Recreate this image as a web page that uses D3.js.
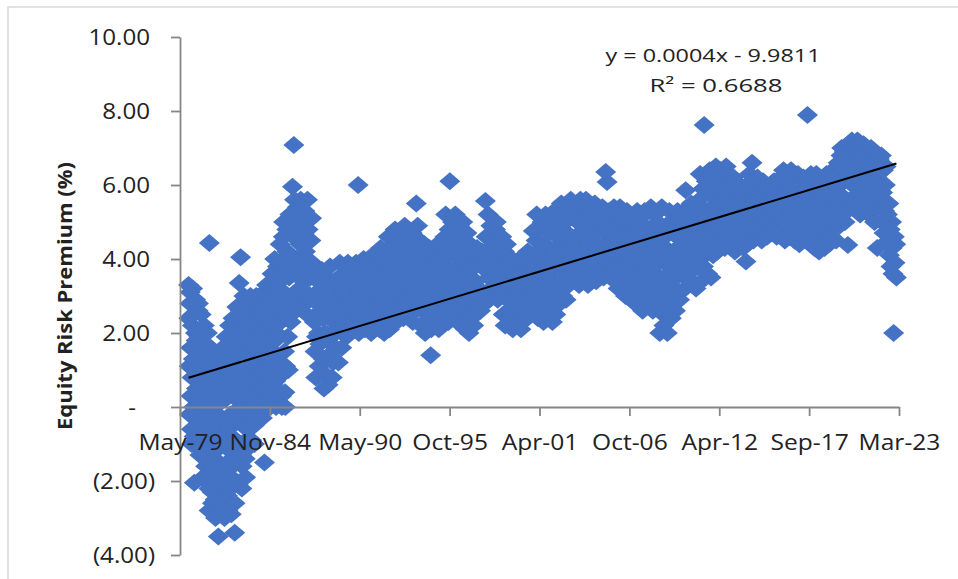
<!DOCTYPE html>
<html>
<head>
<meta charset="utf-8">
<script src="https://cdn.jsdelivr.net/npm/d3@7"></script>
<style>
  body { margin: 0; background: #fff; }
  text { font-family: "Open Sans", sans-serif; fill: #222; }
</style>
</head>
<body>
<svg id="chart" width="958" height="579"></svg>
<script>
// Equity risk premium (%).
// Weekly readings (1st, 8th, 16th, 24th of each month), Dec 1979 .. Dec 1985
const erpWeekly1979to82 = [
  3.3, 2.4, 1.1, -0.2,
  2.8, 3.1, 1.6, 0.3,  -0.6, -1.0, 0.8, 2.2,  3.2, 2.5, 1.3, 0.0,
  -0.8, -2.05, -0.3, 1.0,  2.0, 2.9, 1.8, 0.5,  -0.5, -1.0, 0.2, 1.5,
  2.6, 2.8, 1.9, 0.7,  -0.4, -1.3, -0.9, 0.4,  1.4, 2.5, 2.0, 1.0,
  -0.1, -1.2, -1.9, -1.0,  0.2, 1.2, 2.2, 1.6,  0.6, -0.6, -1.6, -2.0,
  -1.2, 0.0, 1.0, 2.0,  1.4, 0.3, -0.9, -2.2,  -2.8, 4.43, -1.5, -0.4,
  0.7, 1.6, 1.1, -0.1,  -1.1, -2.3, -2.6, -1.7,  -0.6, 0.5, 1.5, 0.9,
  -0.3, -1.4, -2.5, -3.0,  -2.0, -0.8, 0.4, 1.3,  0.7, -0.5, -1.8, -3.5,
  -2.9, -2.2, -1.1, 0.1,  1.1, 0.3, -0.9, -2.1,  -2.7, -1.6, -0.3, 0.8,
  1.6, 0.5, -0.7, -1.8,  -2.6, -3.0, -2.1, -1.0,  0.2, 1.3, 1.9, 0.9,
  -0.4, -1.5, -2.4, -2.8,  -1.7, -0.6, 0.6, 1.7,  2.2, 1.2, -0.2, -1.2,
  -2.2, -2.9, -1.9, -0.8,  0.4, 1.5, 2.4, 1.8,  0.5, -0.9, -2.0, -3.4,
  -2.6, -1.4, -0.1, 1.1,  2.1, 2.7, 1.4, 0.2,  -1.0, -2.1, -1.5, -0.4
];
const erpWeekly1983to85 = [
  3.35, 0.8, 1.9, 2.6,  4.05, 1.5, 0.1, -1.3,  -2.2, -1.6, -0.5, 0.7,
  1.8, 2.8, 3.0, 2.2,  1.0, -0.2, -1.4, -1.9,  -0.9, 0.3, 1.4, 2.4,
  2.9, 2.1, 0.9, -0.3,  -1.1, -0.6, 0.5, 1.6,  2.5, 3.0, 2.0, 0.8,
  -0.2, -0.9, 0.2, 1.3,  2.3, 2.9, 1.7, 0.6,  -0.5, -1.0, 0.0, 1.1,
  2.0, 2.8, 3.0, 1.9,  0.9, -0.1, -0.3, 0.6,  1.5, 2.4, 2.9, 1.7,
  0.4, -0.2, 0.8, 1.9,  2.7, 2.2, 1.1, 0.1,  -0.3, 0.5, 1.4, 2.5,
  3.1, 2.0, -1.5, 0.9,  0.0, 0.7, 1.6, 2.6,  3.3, 2.3, 1.2, 0.3,
  0.1, 1.0, 2.1, 3.0,  2.4, 1.3, 0.4, 0.0,  0.8, 1.9, 2.9, 3.2,
  3.6, 2.7, 1.5, 0.6,  0.1, 1.0, 2.2, 3.3,  4.0, 3.1, 1.8, 0.7,
  0.0, 0.9, 2.0, 3.0,  3.8, 2.6, 1.4, 0.4,  0.8, 1.9, 3.2, 3.9,
  4.4, 3.4, 2.3, 1.2,  0.3, 0.0, 1.0, 2.5,  3.6, 4.6, 5.0, 3.9,
  2.7, 1.5, 0.4, 0.0,  1.1, 2.4, 3.7, 4.8,  4.2, 3.0, 1.9, 2.8
];
// Semi-monthly readings (1st and 16th of each month), Jan 1986 .. Jan 2023
const erp1986to89 = [
  1.0, 3.5, 5.2, 4.1, 2.3, 3.0, 5.95, 4.6, 7.08, 5.6, 3.8, 2.6,
  4.9, 5.4, 3.6, 2.7, 3.2, 4.4, 5.6, 5.0, 3.9, 2.8, 3.4, 4.7,
  5.3, 4.2, 3.1, 2.5, 5.6, 4.8, 3.7, 2.9, 3.5, 4.5, 5.1, 3.9,
  3.0, 3.6, 2.3, 1.5, 0.8, 1.9, 2.8, 3.4, 2.0, 1.1, 1.7, 2.6,
  3.2, 3.7, 2.4, 1.3, 0.5, 0.9, 2.0, 3.0, 3.5, 1.8, 0.6, 1.4,
  2.6, 3.8, 3.1, 1.9, 0.8, 1.2, 2.3, 3.4, 2.8, 1.6, 2.1, 3.3,
  2.1, 1.2, 2.9, 3.9, 3.3, 2.4, 1.6, 2.7, 3.6, 2.2, 3.0, 3.8,
  2.5, 1.9, 3.2, 3.9, 2.8, 2.1, 3.5, 2.6, 3.8, 3.0, 2.3, 3.4
];
const erp1990to99 = [
  3.7, 2.2, 2.9, 3.9, 2.5, 3.3, 6.0, 2.0, 3.1, 3.8, 2.7, 3.5,
  2.3, 3.0, 4.0, 3.4, 2.1, 2.8, 3.6, 2.4, 3.9, 3.2, 2.6, 3.7,
  2.9, 2.0, 3.5, 4.1, 3.1, 2.4, 3.8, 2.7, 2.2, 3.3, 4.0, 2.6,
  3.6, 2.1, 3.0, 4.3, 3.4, 2.5, 3.9, 2.8, 2.0, 3.2, 4.2, 3.7,
  2.4, 3.5, 4.6, 3.0, 2.1, 3.8, 4.3, 2.7, 3.3, 4.0, 2.5, 3.6,
  4.8, 3.4, 2.3, 3.9, 4.5, 2.8, 3.2, 4.2, 2.6, 3.7, 4.6, 3.0,
  2.4, 3.5, 4.9, 4.1, 2.9, 3.3, 4.6, 2.7, 3.8, 4.4, 3.1, 2.5,
  3.6, 4.7, 2.3, 3.0, 4.2, 3.4, 2.6, 5.5, 3.9, 4.9, 2.8, 3.5,
  4.5, 3.2, 2.2, 3.7, 4.1, 2.6, 3.0, 4.4, 2.0, 3.4, 3.9, 2.8,
  3.3, 2.4, 4.3, 3.6, 1.4, 2.1, 3.0, 4.0, 2.7, 3.8, 2.3, 3.4,
  2.5, 3.7, 4.4, 3.1, 2.1, 2.9, 4.0, 3.5, 2.4, 3.9, 4.2, 2.8,
  3.4, 4.6, 5.2, 2.6, 3.1, 4.1, 2.3, 4.8, 6.1, 3.7, 2.9, 4.4,
  5.0, 3.3, 2.5, 4.2, 5.2, 3.8, 2.9, 4.6, 2.3, 3.5, 4.9, 4.0,
  3.1, 2.2, 4.4, 5.0, 3.6, 2.7, 4.1, 2.1, 3.3, 4.7, 3.9, 2.5,
  2.0, 3.0, 4.4, 3.7, 2.4, 3.3, 4.1, 2.2, 2.8, 3.9, 3.4, 2.6,
  4.3, 3.9, 2.7, 3.0, 4.1, 2.6, 3.8, 4.2, 2.9, 3.1, 4.0, 2.8,
  5.57, 4.6, 3.1, 4.0, 5.2, 3.5, 2.9, 4.3, 4.9, 3.8, 3.2, 4.7,
  4.2, 3.0, 3.6, 4.8, 5.0, 3.3, 2.9, 4.4, 3.9, 4.6, 3.4, 4.1,
  4.6, 3.7, 2.5, 3.1, 4.2, 2.2, 3.4, 4.4, 2.9, 3.9, 2.6, 3.6,
  3.8, 2.4, 3.0, 4.0, 2.1, 3.3, 3.6, 2.6, 2.2, 3.5, 2.8, 3.9
];
const erp2000to09 = [
  2.4, 3.2, 4.0, 2.7, 2.1, 3.6, 3.0, 2.3, 3.8, 3.4, 2.6, 3.9,
  2.9, 3.5, 4.2, 2.5, 3.1, 3.9, 2.7, 3.7, 4.0, 3.3, 4.76, 3.0,
  2.6, 3.8, 4.5, 5.2, 3.2, 2.4, 4.1, 4.8, 3.5, 2.8, 4.3, 5.0,
  3.6, 2.3, 2.9, 4.4, 5.2, 3.9, 2.6, 3.3, 4.7, 2.5, 3.1, 4.0,
  4.9, 3.4, 2.3, 2.8, 4.2, 5.3, 3.7, 2.5, 3.1, 4.6, 5.0, 3.9,
  3.3, 2.8, 4.4, 5.5, 3.9, 3.0, 4.8, 5.2, 3.6, 4.1, 2.9, 4.6,
  5.4, 4.2, 3.3, 3.8, 5.1, 5.6, 4.0, 3.5, 4.3, 5.3, 3.7, 4.1,
  3.4, 4.4, 5.5, 5.0, 3.9, 3.3, 4.7, 5.6, 4.2, 3.6, 4.9, 5.2,
  4.0, 3.4, 4.6, 5.6, 5.1, 3.8, 3.3, 4.3, 5.4, 4.8, 3.6, 4.5,
  5.2, 4.1, 3.5, 4.7, 5.5, 3.9, 3.4, 4.4, 5.0, 4.2, 3.7, 4.9,
  4.3, 3.6, 5.0, 5.4, 4.1, 3.5, 4.7, 5.2, 6.35, 4.4, 6.08, 3.9,
  4.8, 5.3, 4.0, 3.5, 4.5, 5.1, 3.8, 4.2, 5.4, 4.6, 3.6, 4.9,
  5.2, 4.3, 3.2, 3.7, 4.9, 5.4, 4.1, 3.4, 4.6, 5.0, 3.9, 4.4,
  3.5, 3.0, 4.2, 5.3, 4.7, 3.8, 3.2, 4.5, 5.1, 4.0, 3.4, 4.8,
  5.0, 4.3, 3.1, 2.8, 3.9, 4.8, 5.3, 4.0, 3.3, 3.6, 4.6, 5.1,
  4.2, 3.0, 2.6, 3.7, 4.9, 5.3, 4.4, 3.2, 2.9, 4.1, 4.7, 3.5,
  3.8, 4.5, 5.4, 4.0, 3.1, 2.6, 3.4, 4.8, 5.2, 3.6, 2.9, 4.3,
  5.0, 3.9, 2.7, 2.0, 3.2, 4.4, 5.4, 4.1, 2.5, 2.2, 3.5, 4.6,
  4.9, 3.0, 2.0, 2.6, 3.8, 5.3, 4.2, 3.3, 2.4, 3.6, 4.7, 5.0,
  4.0, 2.8, 2.6, 3.5, 4.6, 5.3, 4.3, 3.1, 2.9, 3.9, 5.0, 4.4
];
const erp2010to23 = [
  3.6, 4.8, 5.3, 4.1, 3.2, 5.86, 4.5, 3.5, 3.9, 5.1, 4.3, 3.4,
  4.7, 5.5, 4.0, 3.3, 3.7, 4.9, 5.2, 4.2, 3.2, 3.9, 4.6, 5.4,
  4.5, 5.6, 6.3, 4.0, 3.4, 4.9, 5.9, 3.8, 7.62, 5.3, 4.3, 6.1,
  5.0, 3.6, 4.4, 6.0, 6.4, 4.7, 3.5, 5.4, 6.2, 4.1, 5.7, 4.8,
  5.8, 6.5, 4.5, 4.2, 5.2, 6.1, 4.8, 5.5, 6.4, 4.4, 5.0, 5.9,
  6.3, 5.1, 4.3, 5.6, 6.5, 4.7, 5.3, 6.0, 4.5, 4.9, 5.7, 6.2,
  5.4, 4.4, 5.9, 6.2, 4.8, 4.2, 5.2, 6.0, 5.6, 4.6, 5.0, 5.8,
  6.0, 5.3, 4.5, 4.9, 5.7, 4.3, 5.1, 5.8, 4.7, 3.93, 5.5, 4.4,
  5.0, 5.9, 6.3, 4.7, 5.4, 6.1, 6.6, 4.9, 4.5, 5.6, 6.0, 5.2,
  4.8, 5.5, 6.2, 5.8, 4.6, 5.1, 6.0, 5.3, 4.5, 5.7, 6.1, 4.9,
  5.4, 4.8, 5.9, 5.1, 4.6, 5.6, 5.8, 4.9, 5.3, 5.7, 4.7, 5.5,
  5.0, 5.9, 6.1, 4.8, 5.4, 5.7, 4.6, 5.2, 6.0, 5.5, 4.9, 5.8,
  6.2, 5.3, 4.7, 5.8, 6.4, 5.0, 4.5, 5.5, 6.1, 4.9, 5.7, 6.3,
  5.1, 4.6, 5.9, 6.4, 5.4, 4.8, 6.0, 5.6, 4.5, 5.2, 6.2, 5.0,
  5.8, 6.3, 4.9, 4.4, 5.5, 6.0, 5.2, 4.7, 5.7, 6.2, 4.6, 5.3,
  5.9, 5.0, 4.7, 7.89, 6.1, 5.4, 4.5, 5.7, 6.3, 4.8, 5.2, 6.0,
  5.5, 4.3, 4.9, 6.1, 6.3, 5.2, 4.6, 5.8, 4.2, 5.0, 6.0, 5.6,
  4.8, 5.7, 6.2, 5.3, 4.3, 5.0, 5.9, 6.3, 4.6, 5.4, 4.4, 5.8,
  6.1, 5.2, 4.6, 5.6, 6.4, 4.9, 5.4, 6.2, 5.0, 4.5, 5.8, 6.3,
  6.6, 5.5, 4.9, 6.0, 6.8, 7.0, 5.7, 5.2, 6.4, 6.9, 5.0, 6.2,
  6.7, 5.3, 4.38, 6.1, 7.1, 6.5, 5.6, 6.9, 7.2, 6.0, 5.4, 6.6,
  7.0, 6.3, 5.5, 6.8, 7.2, 5.9, 6.4, 7.1, 5.2, 6.1, 6.7, 5.8,
  6.9, 7.1, 6.0, 5.4, 6.5, 7.0, 5.8, 6.3, 6.8, 5.2, 6.1, 6.6,
  7.0, 6.4, 5.6, 6.2, 6.9, 5.0, 5.9, 6.6, 6.8, 4.3, 5.7, 6.3,
  6.7, 5.4, 6.1, 6.8, 5.0, 5.8, 6.4, 4.7, 5.3, 6.0, 6.5, 5.5,
  5.2, 4.5, 5.5, 4.1, 4.8, 3.8, 5.0, 4.3, 3.6, 2.0, 4.6, 3.9,
  4.4, 3.5
];

// Excel linear trend, read at the first and last observation
const trendValues = [0.79, 6.58];

const yTicks = [-4, -2, 0, 2, 4, 6, 8, 10];
const xStart = new Date(1979, 4, 25);   // axis minimum (May-79)
const xTickCount = 9, xTickStepDays = 2000;
const yTitle = "Equity Risk Premium (%)";
const trendEquation = "y = 0.0004x - 9.9811";
const trendR2 = "R\u00B2 = 0.6688";

const weekDays = [1, 8, 16, 24];
const weekly = erpWeekly1979to82.concat(erpWeekly1983to85).map((v, i) => ({
  date: new Date(1979, 11 + Math.floor(i / 4), weekDays[i % 4]), value: v
}));
const semi = erp1986to89.concat(erp1990to99, erp2000to09, erp2010to23).map((v, i) => ({
  date: new Date(1986, Math.floor(i / 2), i % 2 ? 16 : 1), value: v
}));
const data = weekly.concat(semi);

const xTicks = d3.range(xTickCount).map(i => d3.timeDay.offset(xStart, xTickStepDays * i));

const svg = d3.select("#chart");
svg.append("rect").attr("width", 958).attr("height", 579).attr("fill", "#fff");
svg.append("rect")
   .attr("x", 8).attr("y", 7).attr("width", 990).attr("height", 600)
   .attr("fill", "none").attr("stroke", "#d9d9d9").attr("stroke-width", 1.5);

const x = d3.scaleTime().domain([xStart, xTicks[xTicks.length - 1]]).range([180, 899]);
const y = d3.scaleLinear().domain([-4, 10]).range([555, 37]);

// points
svg.append("g")
   .selectAll("path")
   .data(data)
   .join("path")
   .attr("transform", d => `translate(${x(d.date)},${y(d.value)})`)
   .attr("d", "M0,-9L10.5,0L0,9L-10.5,0Z")
   .attr("fill", "#4472C4");

// trend line
const ends = d3.extent(data, d => d.date);
svg.append("line")
   .attr("x1", x(ends[0])).attr("y1", y(trendValues[0]))
   .attr("x2", x(ends[1])).attr("y2", y(trendValues[1]))
   .attr("stroke", "#000").attr("stroke-width", 2);

function stretch(sel, k) {
  sel.each(function () {
    const L = this.getComputedTextLength();
    d3.select(this).attr("textLength", L * k).attr("lengthAdjust", "spacingAndGlyphs");
  });
}

// y axis
const yFmt = v => v > 0 ? v.toFixed(2) : v < 0 ? "(" + Math.abs(v).toFixed(2) + ")" : "-";
const gy = svg.append("g")
   .attr("transform", "translate(180,0)")
   .call(d3.axisLeft(y).tickValues(yTicks).tickSize(9).tickSizeOuter(0).tickFormat(yFmt));
gy.attr("font-family", null).attr("font-size", null).style("color", "#868686");
gy.selectAll("path, line").attr("stroke-width", 1.8);
gy.selectAll(".tick text")
  .attr("x", d => d > 0 ? -30 : d < 0 ? -25 : -44)
  .attr("dy", "0.36em")
  .style("font-size", "21px")
  .style("fill", "#222")
  .call(stretch, 1.15);

// x axis at zero
const gx = svg.append("g")
   .attr("transform", `translate(0,${y(0)})`)
   .call(d3.axisBottom(x).tickValues(xTicks).tickSize(9).tickSizeOuter(0).tickFormat(d3.timeFormat("%b-%y")));
gx.attr("font-family", null).attr("font-size", null).style("color", "#868686");
gx.selectAll("path, line").attr("stroke-width", 1.8);
gx.selectAll(".tick text")
  .attr("y", 43).attr("dy", 0)
  .style("font-size", "21px")
  .style("fill", "#222")
  .call(stretch, 1.17);

// axis title
svg.append("text")
   .attr("transform", "translate(72,296) rotate(-90)")
   .attr("text-anchor", "middle")
   .style("font-size", "20px").style("font-weight", "bold")
   .attr("textLength", 268).attr("lengthAdjust", "spacingAndGlyphs")
   .text(yTitle);

// trend equation
svg.append("text")
   .attr("x", 713).attr("y", 62).attr("text-anchor", "middle")
   .style("font-size", "18px")
   .attr("textLength", 215).attr("lengthAdjust", "spacingAndGlyphs")
   .text(trendEquation);
svg.append("text")
   .attr("x", 716).attr("y", 92).attr("text-anchor", "middle")
   .style("font-size", "18px")
   .attr("textLength", 133).attr("lengthAdjust", "spacingAndGlyphs")
   .text(trendR2);
</script>
</body>
</html>
